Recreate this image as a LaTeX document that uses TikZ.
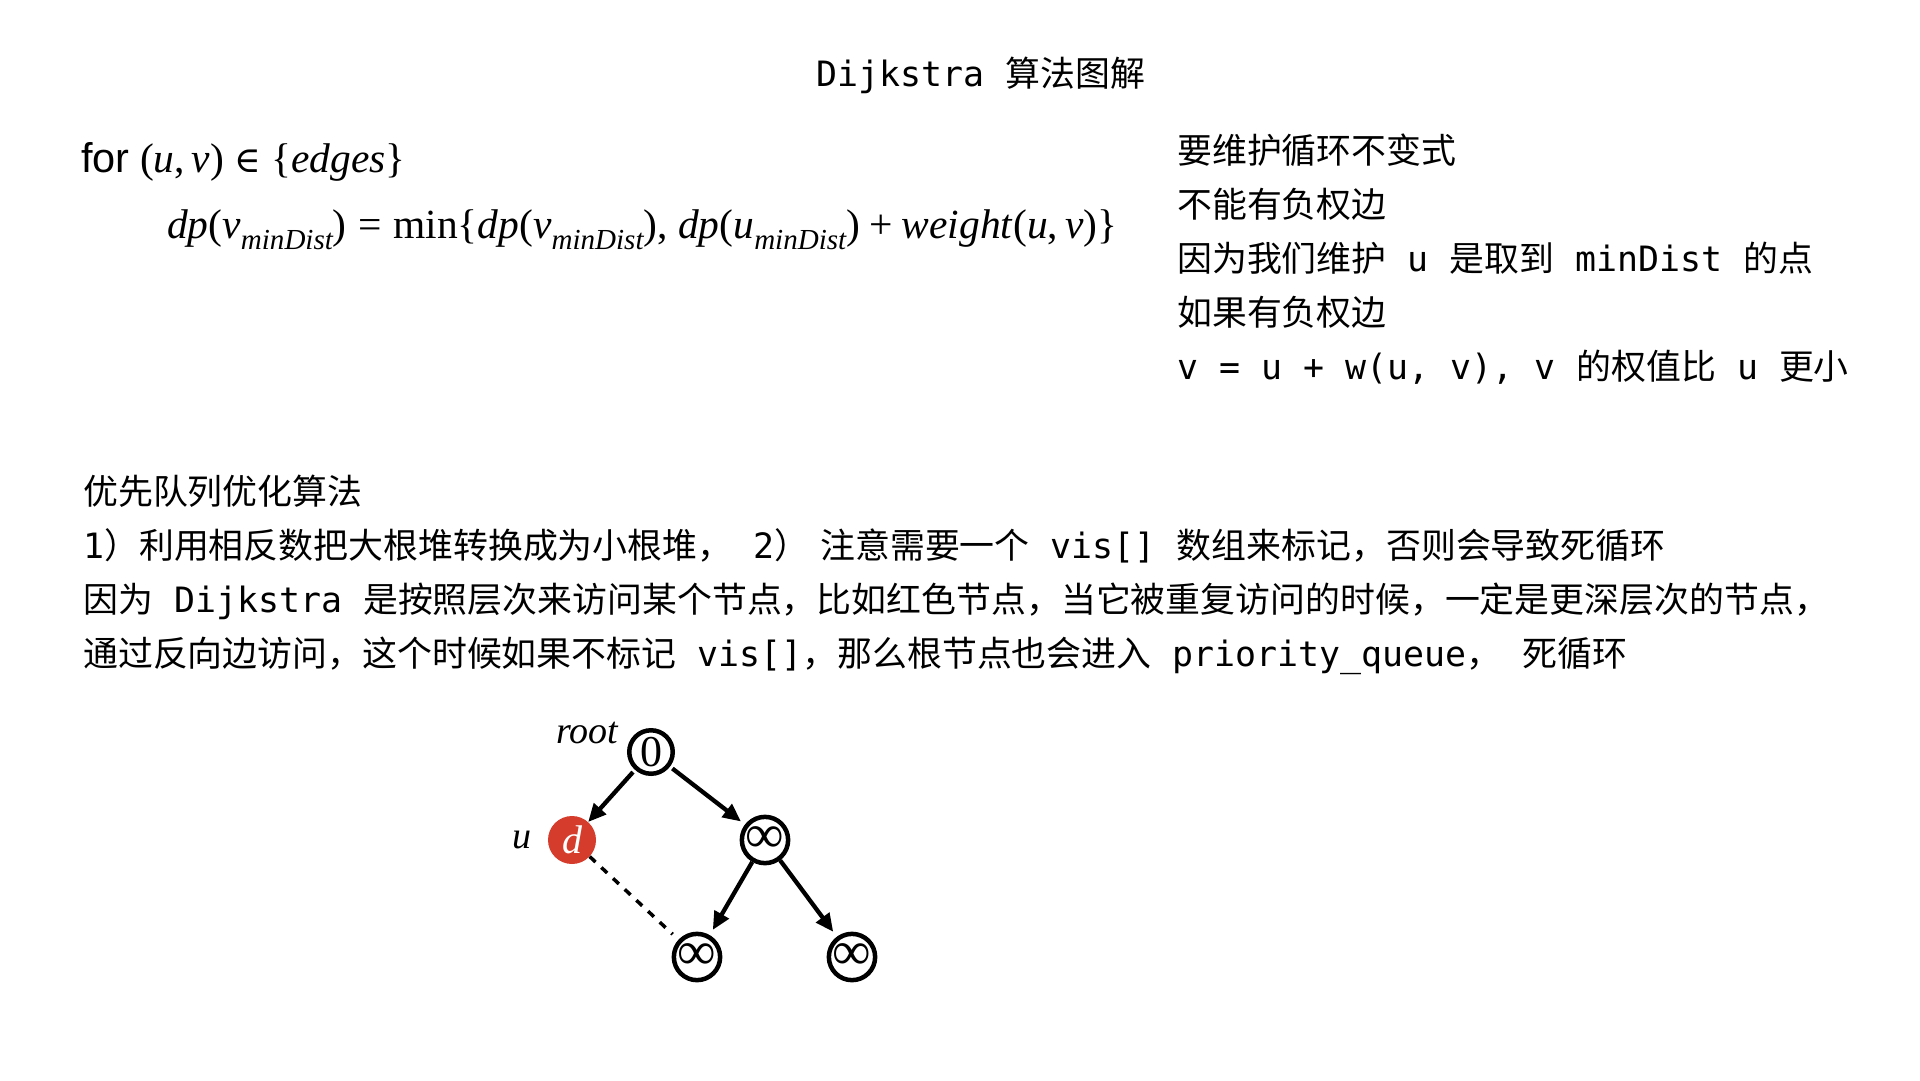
\documentclass[tikz,border=0pt]{standalone}
\usepackage{graphicx}
\usepackage{fontspec}
\setmainfont{Liberation Serif}
\newfontfamily\cjk{Noto Sans CJK SC}
\newfontfamily\mono{DejaVu Sans Mono}
\newfontfamily\hsans{Liberation Sans}
\newfontfamily\djs{DejaVu Serif}
\usetikzlibrary{arrows.meta}
\definecolor{dred}{HTML}{D63C2B}
\newcommand\mt[1]{{\mono#1}}
\newcommand\sbx[1]{\raisebox{-0.28em}{\scalebox{0.7}{\itshape #1}}}
\begin{document}
\begin{tikzpicture}[x=1pt,y=-1pt,
  txt/.style={anchor=base west, inner sep=0pt, font=\cjk\fontsize{34.9}{42}\selectfont},
  frm/.style={anchor=base west, inner sep=0pt, font=\fontsize{41.5}{48}\selectfont},
  circ/.style={circle, draw, line width=4.5pt, minimum size=43.5pt, inner sep=0pt, font=\fontsize{44}{44}\selectfont},
  inf/.style={circ, font=\fontsize{54}{54}\selectfont},
  rednode/.style={circle, fill=dred, minimum size=48pt, inner sep=0pt, text=white, font=\itshape\fontsize{40}{40}\selectfont},
  lbl/.style={anchor=base, inner sep=0pt, font=\itshape\fontsize{38}{40}\selectfont},
  arr/.style={line width=4.3pt, -{Triangle[length=18pt,width=16pt]}},
  dsh/.style={line width=3.5pt, dash pattern=on 8pt off 8pt}]
\path[use as bounding box] (0,0) rectangle (1920,1080);

% title
\node[txt, anchor=base] (title) at (981,86) {\mt{Dijkstra }算法图解};

% formula
\node[frm] (f1) at (81,172) {{\hsans for} (\textit{u},\,\textit{v}) {\djs\fontsize{36}{40}\selectfont ∈} \{\textit{edges}\}};
\node[frm] (f2) at (167,238) {\textit{dp}(\textit{v}\sbx{minDist})\hspace{0.28em}=\hspace{0.28em}min\{\textit{dp}(\textit{v}\sbx{minDist}), \textit{dp}(\textit{u}\sbx{minDist})\hspace{0.22em}+\hspace{0.22em}\textit{weight}(\textit{u},\,\textit{v})\}};

% right column
\node[txt] (r1) at (1177,163) {要维护循环不变式};
\node[txt] (r2) at (1177,217) {不能有负权边};
\node[txt] (r3) at (1177,271) {因为我们维护\mt{ u }是取到\mt{ minDist }的点};
\node[txt] (r4) at (1177,325) {如果有负权边};
\node[txt] (r5) at (1177,379) {\mt{v = u + w(u, v), v }的权值比\mt{ u }更小};

% bottom block
\node[txt] (b1) at (83,504) {优先队列优化算法};
\node[txt] (b2) at (83,558) {\mt{1}）利用相反数把大根堆转换成为小根堆，\mt{ 2}）\hspace{11pt}注意需要一个\mt{ vis[] }数组来标记，否则会导致死循环};
\node[txt] (b3) at (83,612) {因为\mt{ Dijkstra }是按照层次来访问某个节点，比如红色节点，当它被重复访问的时候，一定是更深层次的节点，};
\node[txt] (b4) at (83,666) {通过反向边访问，这个时候如果不标记\mt{ vis[]}，那么根节点也会进入\mt{ priority\_queue}，\mt{ }死循环};

% tree
\node[circ] (root) at (651,752) {0};
\node[rednode] (d) at (572,840) {d};
\node[inf] (m) at (765,840) {∞};
\node[inf] (bl) at (697,957) {∞};
\node[inf] (br) at (852,957) {∞};
\node[lbl] (rootlbl) at (587,743) {root};
\node[lbl] (ulbl) at (522,848) {u};

\draw[arr, shorten <=3pt] (root) -- (d);
\draw[arr, shorten <=3pt, shorten >=5pt] (root) -- (m);
\draw[arr, shorten >=6pt] (m) -- (bl);
\draw[arr, shorten >=6pt] (m) -- (br);
\draw[dsh, shorten >=8pt] (d) -- (bl);
\end{tikzpicture}
\end{document}
